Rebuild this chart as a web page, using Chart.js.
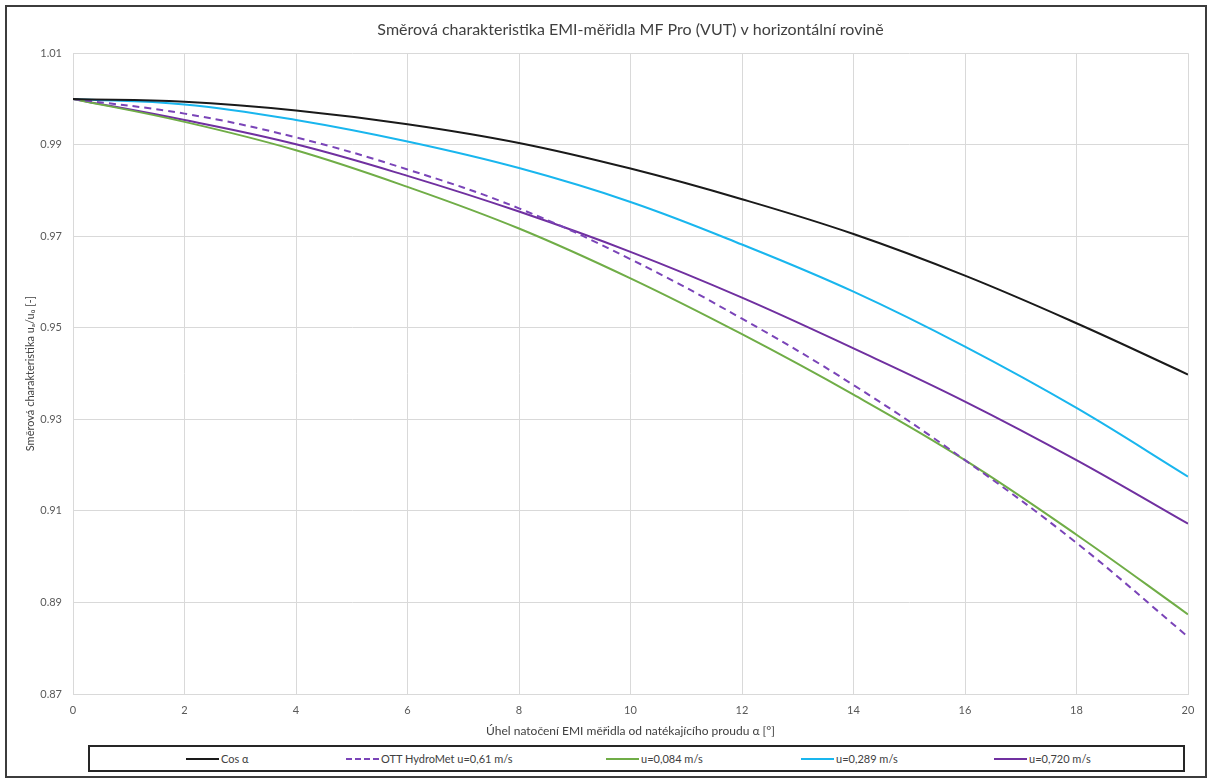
<!DOCTYPE html>
<html>
<head>
<meta charset="utf-8">
<title>Směrová charakteristika EMI-měřidla</title>
<script src="https://cdn.jsdelivr.net/npm/chart.js@4/dist/chart.umd.min.js"></script>
<style>
body { margin: 0; background: #fff; }
#wrap { position: relative; width: 1211px; height: 780px; overflow: hidden; }
#frame { position: absolute; left: 5px; top: 5px; width: 1198px; height: 769px; border: 2px solid #3c3c3c; pointer-events: none; }
#chart { position: absolute; left: 0; top: 0; }
#legend { position: absolute; left: 88px; top: 745px; width: 1093px; height: 23px; border: 2px solid #262626; font-family: Lato, "DejaVu Sans", sans-serif; font-size: 11px; color: #404040; }
#legend .item { position: absolute; top: 5px; height: 13px; line-height: 13px; white-space: nowrap; }
#legend .sample { display: inline-block; width: 33px; height: 0; border-top: 2px solid; vertical-align: middle; margin-right: 2px; position: relative; top: -1px; }
</style>
</head>
<body>
<div id="wrap">
  <canvas id="chart" width="1211" height="745"></canvas>
  <div id="legend"></div>
  <div id="frame"></div>
</div>
<script>
// uhel natoceni [deg]
var angles = [0, 2, 4, 6, 8, 10, 12, 14, 16, 18, 20];

// hodnoty
var cosAlpha    = [1.0000, 0.9994, 0.9975, 0.9945, 0.9904, 0.9848, 0.9781, 0.9705, 0.9614, 0.9510, 0.9398];
var ottHydroMet = [1.0000, 0.9968, 0.9916, 0.9846, 0.9761, 0.9650, 0.9520, 0.9375, 0.9211, 0.9030, 0.8825];
var u084        = [1.0000, 0.9950, 0.9888, 0.9808, 0.9717, 0.9608, 0.9486, 0.9354, 0.9211, 0.9048, 0.8874];
var u289        = [1.0000, 0.9988, 0.9954, 0.9907, 0.9849, 0.9775, 0.9682, 0.9579, 0.9459, 0.9325, 0.9175];
var u720        = [1.0000, 0.9954, 0.9901, 0.9832, 0.9754, 0.9666, 0.9566, 0.9455, 0.9339, 0.9211, 0.9072];

var seriesNames = ['Cos α', 'OTT HydroMet u=0,61 m/s', 'u=0,084 m/s', 'u=0,289 m/s', 'u=0,720 m/s'];

var xTicks = [0, 2, 4, 6, 8, 10, 12, 14, 16, 18, 20];
var yTicks = [0.87, 0.89, 0.91, 0.93, 0.95, 0.97, 0.99, 1.01];

var FONT = 'Lato, "DejaVu Sans", sans-serif';

function points(values) {
	var pts = [];
	for (var i = 0; i < angles.length; i++)
		pts.push({ x: angles[i], y: values[i] });
	return pts;
}

function line(label, values, color, dash) {
	return {
		label: label,
		data: points(values),
		borderColor: color,
		backgroundColor: color,
		borderWidth: 2,
		borderDash: dash || [],
		pointRadius: 0,
		tension: 0.4
	};
}

var datasets = [
	line(seriesNames[0], cosAlpha, '#1a1a1a'),
	line(seriesNames[1], ottHydroMet, '#7a44b8', [7, 5]),
	line(seriesNames[2], u084, '#70ad47'),
	line(seriesNames[3], u289, '#19b6ee'),
	line(seriesNames[4], u720, '#7030a0')
];

var grid = { color: '#d9d9d9', lineWidth: 1, drawTicks: false };

var chart = new Chart(document.getElementById('chart'), {
	type: 'line',
	data: { datasets: datasets },
	options: {
		responsive: false,
		animation: false,
		layout: { padding: { left: 20, right: 23, top: 10, bottom: 7 } },
		plugins: {
			legend: { display: false },
			tooltip: { enabled: false },
			title: {
				display: true,
				fullSize: false,
				text: 'Směrová charakteristika EMI-měřidla MF Pro (VUT) v horizontální rovině',
				color: '#404040',
				font: { family: FONT, size: 16, weight: 'normal' },
				padding: { top: 10, bottom: 14 }
			}
		},
		scales: {
			x: {
				type: 'linear',
				min: 0,
				max: 20,
				grid: grid,
				border: { color: '#d9d9d9' },
				afterBuildTicks: function (scale) {
					scale.ticks = xTicks.map(function (v) { return { value: v }; });
				},
				afterFit: function (scale) { scale.height = 44; },
				ticks: { color: '#595959', font: { family: FONT, size: 11 }, padding: 10, maxRotation: 0 },
				title: {
					display: true,
					text: 'Úhel natočení EMI měřidla od natékajícího proudu α [°]',
					color: '#404040',
					font: { family: FONT, size: 12 },
					padding: { top: 0, bottom: 0 }
				}
			},
			y: {
				min: 0.87,
				max: 1.01,
				grid: grid,
				border: { color: '#d9d9d9' },
				afterBuildTicks: function (scale) {
					scale.ticks = yTicks.map(function (v) { return { value: v }; });
				},
				afterFit: function (scale) { scale.width = 53; },
				ticks: {
					color: '#595959',
					font: { family: FONT, size: 11 },
					padding: 11,
					callback: function (v) { return v.toFixed(2); }
				},
				title: {
					display: true,
					text: 'Směrová charakteristika uₐ/u₀ [-]',
					color: '#404040',
					font: { family: FONT, size: 11 },
					padding: { top: 4, bottom: 0 }
				}
			}
		}
	}
});

// legenda pod grafem (ramecek jako v Excelu)
var legendLeft = [96, 256, 516, 711, 904];
var legendDiv = document.getElementById('legend');
for (var i = 0; i < chart.data.datasets.length; i++) {
	var ds = chart.data.datasets[i];
	var item = document.createElement('div');
	item.className = 'item';
	item.style.left = legendLeft[i] + 'px';
	var sample = document.createElement('span');
	sample.className = 'sample';
	sample.style.borderTopColor = ds.borderColor;
	if (ds.borderDash.length)
		sample.style.borderTopStyle = 'dashed';
	item.appendChild(sample);
	item.appendChild(document.createTextNode(ds.label));
	legendDiv.appendChild(item);
}
</script>
</body>
</html>
